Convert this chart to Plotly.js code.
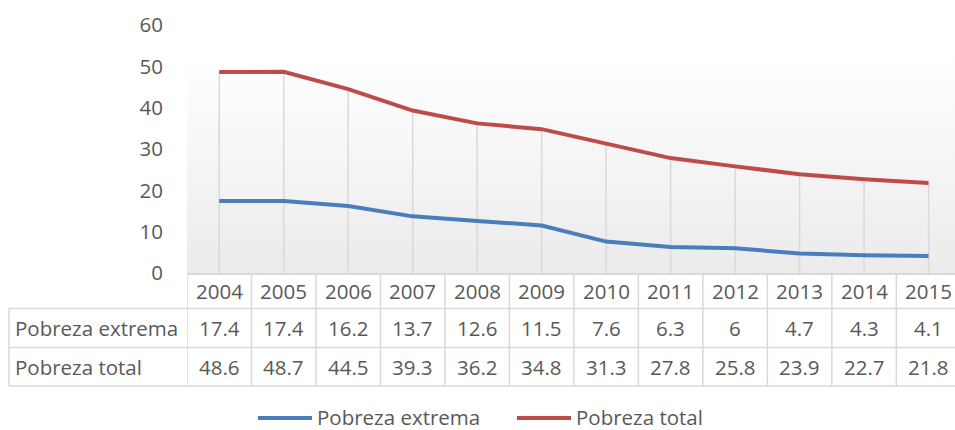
<!DOCTYPE html>
<html>
<head>
<meta charset="utf-8">
<script src="https://cdn.plot.ly/plotly-3.0.1.min.js"></script>
<style>html,body{margin:0;padding:0;overflow:hidden;background:#fff}#chart{width:955px;height:430px}</style>
</head>
<body>
<div id="chart"></div>
<script>
// ---- data ----
const years = ['2004','2005','2006','2007','2008','2009','2010','2011','2012','2013','2014','2015'];
const seriesNames = ['Pobreza extrema', 'Pobreza total'];
const pobrezaExtrema = [17.4, 17.4, 16.2, 13.7, 12.6, 11.5, 7.6, 6.3, 6, 4.7, 4.3, 4.1];
const pobrezaTotal = [48.6, 48.7, 44.5, 39.3, 36.2, 34.8, 31.3, 27.8, 25.8, 23.9, 22.7, 21.8];
const yTicks = [0, 10, 20, 30, 40, 50, 60];

// ---- styling ----
const W = 955, H = 430;
const ML = 187, MT = 25, MB = 157;
const plotTop = MT, plotBottom = H - MB, plotH = plotBottom - plotTop, plotW = W - ML;
const textColor = '#595959';
const gridColor = '#d9d9d9';
const blue = '#4a7ebb', red = '#be4b48';
const FONT = 'Open Sans, Noto Sans, sans-serif';
const FS = 20.5;

const py = v => (plotBottom - v) / plotH;   // pixel y -> paper y
const px = v => (v - ML) / plotW;           // pixel x -> paper x

const shapes = [];
const annotations = [];
const line = (x0, y0, x1, y1, xref, color, width) => shapes.push({
  type: 'line', xref: xref, yref: 'paper', x0: x0, x1: x1, y0: y0, y1: y1,
  line: {color: color || gridColor, width: width || 1.5}
});

// table geometry (pixel rows)
const rowTop = plotBottom, row1 = 308.5, row2 = 347.5, row3 = 386;
const tableLeft = 9;
line(px(tableLeft), py(row1), 1, py(row1), 'paper');
line(px(tableLeft), py(row2), 1, py(row2), 'paper');
line(px(tableLeft), py(row3), 1, py(row3), 'paper');
line(px(tableLeft), py(row1), px(tableLeft), py(row3), 'paper');
for (let i = 0; i <= years.length; i++) {
  line(i - 0.5, py(rowTop), i - 0.5, py(row3), 'x');
}
const cellText = (x, xref, y, text, anchor) => annotations.push({
  x: x, xref: xref, y: py(y), yref: 'paper', text: text, showarrow: false,
  xanchor: anchor || 'center', yanchor: 'middle',
  font: {family: FONT, size: FS, color: textColor}
});
years.forEach((yr, i) => {
  cellText(i, 'x', (rowTop + row1) / 2, yr);
  cellText(i, 'x', (row1 + row2) / 2, String(pobrezaExtrema[i]));
  cellText(i, 'x', (row2 + row3) / 2, String(pobrezaTotal[i]));
});
cellText(px(13), 'paper', (row1 + row2) / 2, seriesNames[0], 'left');
cellText(px(13), 'paper', (row2 + row3) / 2, seriesNames[1], 'left');

// legend (manual)
const legY = 417;
const legendItem = (x0, x1, color, label) => {
  shapes.push({type: 'line', xref: 'paper', yref: 'paper', x0: px(x0), x1: px(x1), y0: py(legY + 1), y1: py(legY + 1),
    line: {color: color, width: 4}});
  annotations.push({x: px(x1 + 3), xref: 'paper', y: py(legY), yref: 'paper', text: label, showarrow: false,
    xanchor: 'left', yanchor: 'middle', font: {family: FONT, size: FS, color: textColor}});
};
legendItem(258, 312, blue, seriesNames[0]);
legendItem(517, 571, red, seriesNames[1]);

// plot-area gradient
const svg = '<svg xmlns="http://www.w3.org/2000/svg" width="100" height="100" preserveAspectRatio="none">' +
  '<defs><linearGradient id="g" x1="0" y1="0" x2="0" y2="1">' +
  '<stop offset="0" stop-color="#ffffff"/><stop offset="0.12" stop-color="#ffffff"/><stop offset="1" stop-color="#ebebeb"/>' +
  '</linearGradient></defs><rect width="100" height="100" fill="url(#g)"/></svg>';

const traces = [
  { // drop lines
    x: years, y: pobrezaTotal, type: 'scatter', mode: 'markers',
    marker: {size: 1, opacity: 0}, hoverinfo: 'skip', showlegend: false,
    error_y: {type: 'data', symmetric: false, array: pobrezaTotal.map(() => 0), arrayminus: pobrezaTotal,
      width: 0, color: gridColor, thickness: 1.5}
  },
  {x: years, y: pobrezaExtrema, name: seriesNames[0], type: 'scatter', mode: 'lines',
    line: {color: blue, width: 4}, showlegend: false},
  {x: years, y: pobrezaTotal, name: seriesNames[1], type: 'scatter', mode: 'lines',
    line: {color: red, width: 4}, showlegend: false}
];

const layout = {
  width: W, height: H,
  margin: {l: ML, r: 0, t: MT, b: MB, pad: 0},
  paper_bgcolor: '#ffffff', plot_bgcolor: 'rgba(0,0,0,0)',
  showlegend: false,
  xaxis: {type: 'category', range: [-0.5, years.length - 0.59],
    showgrid: false, zeroline: false, showticklabels: false, ticks: '',
    showline: true, linecolor: gridColor, linewidth: 1.5, fixedrange: true},
  yaxis: {range: [0, 60], tickvals: yTicks, showgrid: false, zeroline: false, showline: false,
    ticks: '', ticklabelstandoff: 23, tickfont: {family: FONT, size: FS, color: textColor}, fixedrange: true},
  images: [{source: 'data:image/svg+xml;charset=utf-8,' + encodeURIComponent(svg), xref: 'paper', yref: 'paper',
    x: 0, y: 1, sizex: 1, sizey: 1, sizing: 'stretch', xanchor: 'left', yanchor: 'top', layer: 'below'}],
  shapes: shapes,
  annotations: annotations
};

Plotly.newPlot('chart', traces, layout, {displayModeBar: false, staticPlot: true});
</script>
</body>
</html>
